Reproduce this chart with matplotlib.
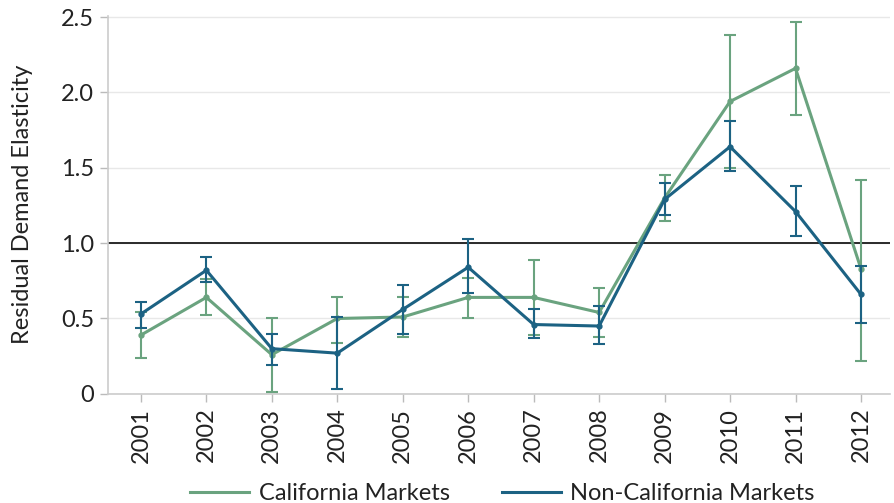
import numpy as np
import matplotlib
matplotlib.use('Agg')
import matplotlib.pyplot as plt
from matplotlib.lines import Line2D

plt.rcParams['font.family'] = ['Lato', 'DejaVu Sans']

years = [2001, 2002, 2003, 2004, 2005, 2006, 2007, 2008, 2009, 2010, 2011, 2012]

# California markets: estimate, lower bound, upper bound
ca_vals = [0.39, 0.64, 0.26, 0.50, 0.51, 0.64, 0.64, 0.54, 1.30, 1.94, 2.16, 0.83]
ca_low = [0.24, 0.52, 0.01, 0.34, 0.38, 0.50, 0.39, 0.38, 1.15, 1.50, 1.85, 0.22]
ca_high = [0.54, 0.76, 0.50, 0.64, 0.64, 0.77, 0.89, 0.70, 1.45, 2.38, 2.47, 1.42]

# Non-California markets
nca_vals = [0.53, 0.82, 0.30, 0.27, 0.56, 0.84, 0.46, 0.45, 1.29, 1.64, 1.21, 0.66]
nca_low = [0.44, 0.74, 0.19, 0.03, 0.40, 0.67, 0.37, 0.33, 1.19, 1.48, 1.05, 0.47]
nca_high = [0.61, 0.91, 0.40, 0.51, 0.72, 1.03, 0.56, 0.58, 1.40, 1.81, 1.38, 0.85]

green = '#6aa37f'
blue = '#1c6283'

fig = plt.figure(figsize=(8.94, 5.03), dpi=100)
ax = fig.add_axes([0.121, 0.217, 0.875, 0.752])

ax.set_axisbelow(True)
ax.grid(axis='y', color='#e8e8e8', linewidth=1)
ax.axhline(1.0, color='#1a1a1a', linewidth=1.3, zorder=2)

def err(vals, low, high):
    v = np.array(vals)
    return [v - np.array(low), np.array(high) - v]

ax.errorbar(years, ca_vals, yerr=err(ca_vals, ca_low, ca_high), color=green,
            linewidth=2.2, marker='o', markersize=3.5, elinewidth=1.5,
            capsize=4, capthick=1.5, label='California Markets', zorder=3)
ax.errorbar(years, nca_vals, yerr=err(nca_vals, nca_low, nca_high), color=blue,
            linewidth=2.2, marker='o', markersize=3.5, elinewidth=1.5,
            capsize=4, capthick=1.5, label='Non-California Markets', zorder=4)

ax.set_xlim(2000.5, 2012.45)
ax.set_ylim(0, 2.51)
ax.set_xticks(years)
ax.set_xticklabels([str(y) for y in years], rotation=90, fontsize=17, color='#222222')
ax.set_yticks([0, 0.5, 1.0, 1.5, 2.0, 2.5])
ax.set_yticklabels(['0', '0.5', '1.0', '1.5', '2.0', '2.5'], fontsize=17, color='#222222')
ax.set_ylabel('Residual Demand Elasticity', fontsize=17, color='#222222', labelpad=20)

for s in ['top', 'right']:
    ax.spines[s].set_visible(False)
for s in ['left', 'bottom']:
    ax.spines[s].set_color('#cccccc')
    ax.spines[s].set_linewidth(1.2)
ax.tick_params(axis='both', color='#bbbbbb', length=6, width=1, pad=4)

labels = ['California Markets', 'Non-California Markets']
h = [Line2D([0], [0], color=green, linewidth=2.2), Line2D([0], [0], color=blue, linewidth=2.2)]
fig.legend(h, labels, loc='lower center', bbox_to_anchor=(0.562, -0.045), ncol=2,
           frameon=False, fontsize=17, handlelength=2.5, handletextpad=0.4,
           columnspacing=2.2, labelcolor='#222222')

fig.savefig('out.png', dpi=100)
